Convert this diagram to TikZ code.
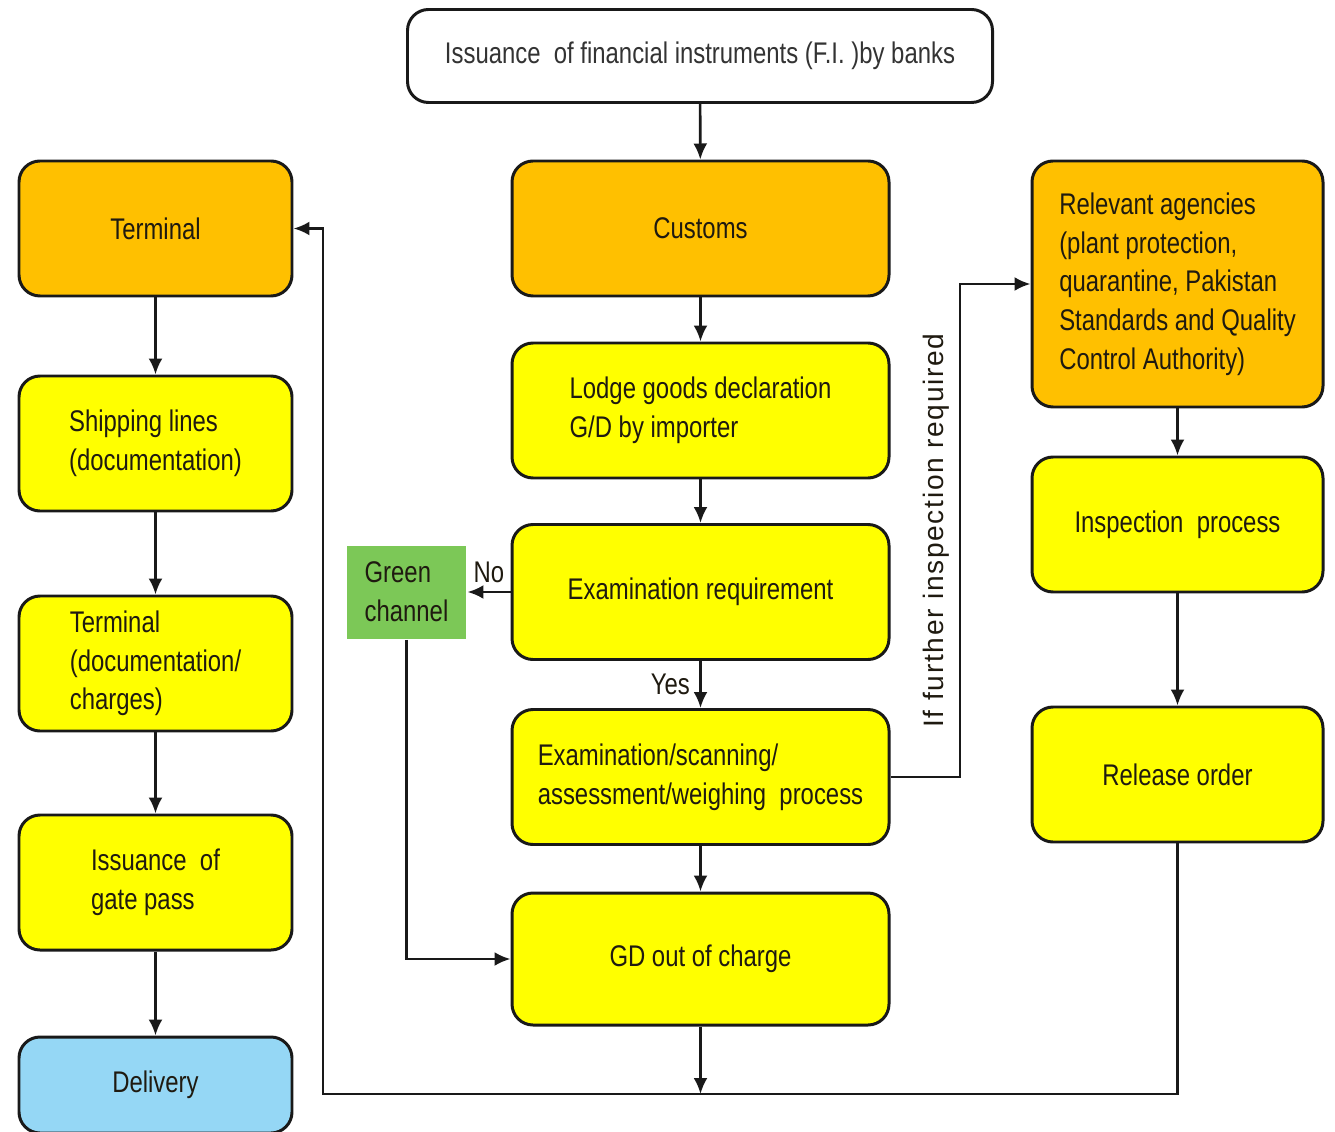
\documentclass[tikz,border=0pt]{standalone}
\usepackage{fontspec}
\setmainfont[FakeStretch=0.8]{Liberation Sans}
\newfontfamily\sidefont[LetterSpace=6]{Liberation Sans}
\usetikzlibrary{arrows.meta}

\definecolor{boxorange}{HTML}{FFC000}
\definecolor{boxyellow}{HTML}{FFFF00}
\definecolor{boxblue}{HTML}{95D7F5}
\definecolor{boxgreen}{HTML}{7CC857}
\definecolor{inkgray}{HTML}{1F1A10}

\begin{document}
\begin{tikzpicture}
 [box/.style={rounded corners=0.42cm, draw=black!90, line width=1.7pt, align=left, text=inkgray, font=\fontsize{17}{22}\selectfont, inner sep=0pt},
  side node/.style={box, minimum width=5.46cm, minimum height=2.7cm},
  mid node/.style={box, minimum width=7.54cm, minimum height=2.7cm},
  right node/.style={box, minimum width=5.82cm, minimum height=2.7cm},
  flow/.style={-{Latex[length=3.2mm,width=2.8mm]}, line width=1.5pt, draw=black!90},
  small label/.style={font=\fontsize{17}{22}\selectfont, text=inkgray}]

 \useasboundingbox (0,0) rectangle (26.7,-22.64);

 % middle column
 \node[box, fill=white, minimum width=11.7cm, minimum height=1.86cm, text=black!80] (fi) at (14.0,-1.12) {Issuance\ \ of financial\ instruments\ (F.I. )by banks};
 \node[mid node, fill=boxorange] (customs) at (14.01,-4.57) {Customs};
 \node[mid node, fill=boxyellow] (lodge) [node distance=3.64cm, below of=customs] {Lodge goods declaration\\G/D by importer};
 \node[mid node, fill=boxyellow] (exreq) [node distance=3.63cm, below of=lodge] {Examination requirement};
 \node[mid node, fill=boxyellow] (escan) [node distance=3.7cm, below of=exreq] {Examination/scanning/\\assessment/weighing\ \ process};
 \node[mid node, fill=boxyellow, minimum height=2.64cm] (gd) [node distance=3.64cm, below of=escan] {GD out of charge};

 \node[box, draw=none, rounded corners=0pt, fill=boxgreen, minimum width=2.38cm, minimum height=1.86cm] (green) [node distance=5.88cm, left of=exreq] {Green\\channel};

 % left column
 \node[side node, fill=boxorange] (term) at (3.11,-4.57) {Terminal};
 \node[side node, fill=boxyellow] (ship) [node distance=4.3cm, below of=term] {Shipping lines\\(documentation)};
 \node[side node, fill=boxyellow] (tdoc) [node distance=4.4cm, below of=ship] {Terminal\\(documentation/\\charges)};
 \node[side node, fill=boxyellow] (gate) [node distance=4.38cm, below of=tdoc] {Issuance\ \ of\\gate pass};
 \node[side node, fill=boxblue, minimum height=1.92cm] (deliv) [node distance=4.05cm, below of=gate] {Delivery};

 % right column
 \node[right node, fill=boxorange, minimum height=4.92cm] (agency) at (23.55,-5.68) {Relevant agencies\\(plant protection,\\quarantine,\ Pakistan\\Standards and Quality\\Control Authority)};
 \node[right node, fill=boxyellow] (insp) [node distance=4.81cm, below of=agency] {Inspection\ \ process};
 \node[right node, fill=boxyellow] (release) [node distance=5.0cm, below of=insp] {Release order};

 \coordinate (turn) at (19.2,0);
 \coordinate (loop) at (6.46,-21.88);

 \path
  (fi) edge [flow] (customs)
  (customs) edge [flow] (lodge)
  (lodge) edge [flow] (exreq)
  (exreq) edge [flow] node [small label, left, xshift=-2pt] {Yes} (escan)
  (escan) edge [flow] (gd)
  (exreq) edge [flow] node [small label, above, yshift=1pt] {No} (green)

  (term) edge [flow] (ship)
  (ship) edge [flow] (tdoc)
  (tdoc) edge [flow] (gate)
  (gate) edge [flow] (deliv)

  (agency) edge [flow] (insp)
  (insp) edge [flow] (release);

 \draw[flow] (green.south) |- (gd.west);
 \draw[flow] (escan.east) -- (escan.east -| turn)
   -- node [sloped, above, yshift=2pt, font=\sidefont\fontsize{16}{20}\selectfont, text=inkgray] {If further inspection required} (turn |- agency.west)
   -- (agency.west);
 \draw[flow] (release.south) |- (loop) |- (term.east);
 \draw[flow] (gd.south) -- (gd.south |- loop);

\end{tikzpicture}
\end{document}
